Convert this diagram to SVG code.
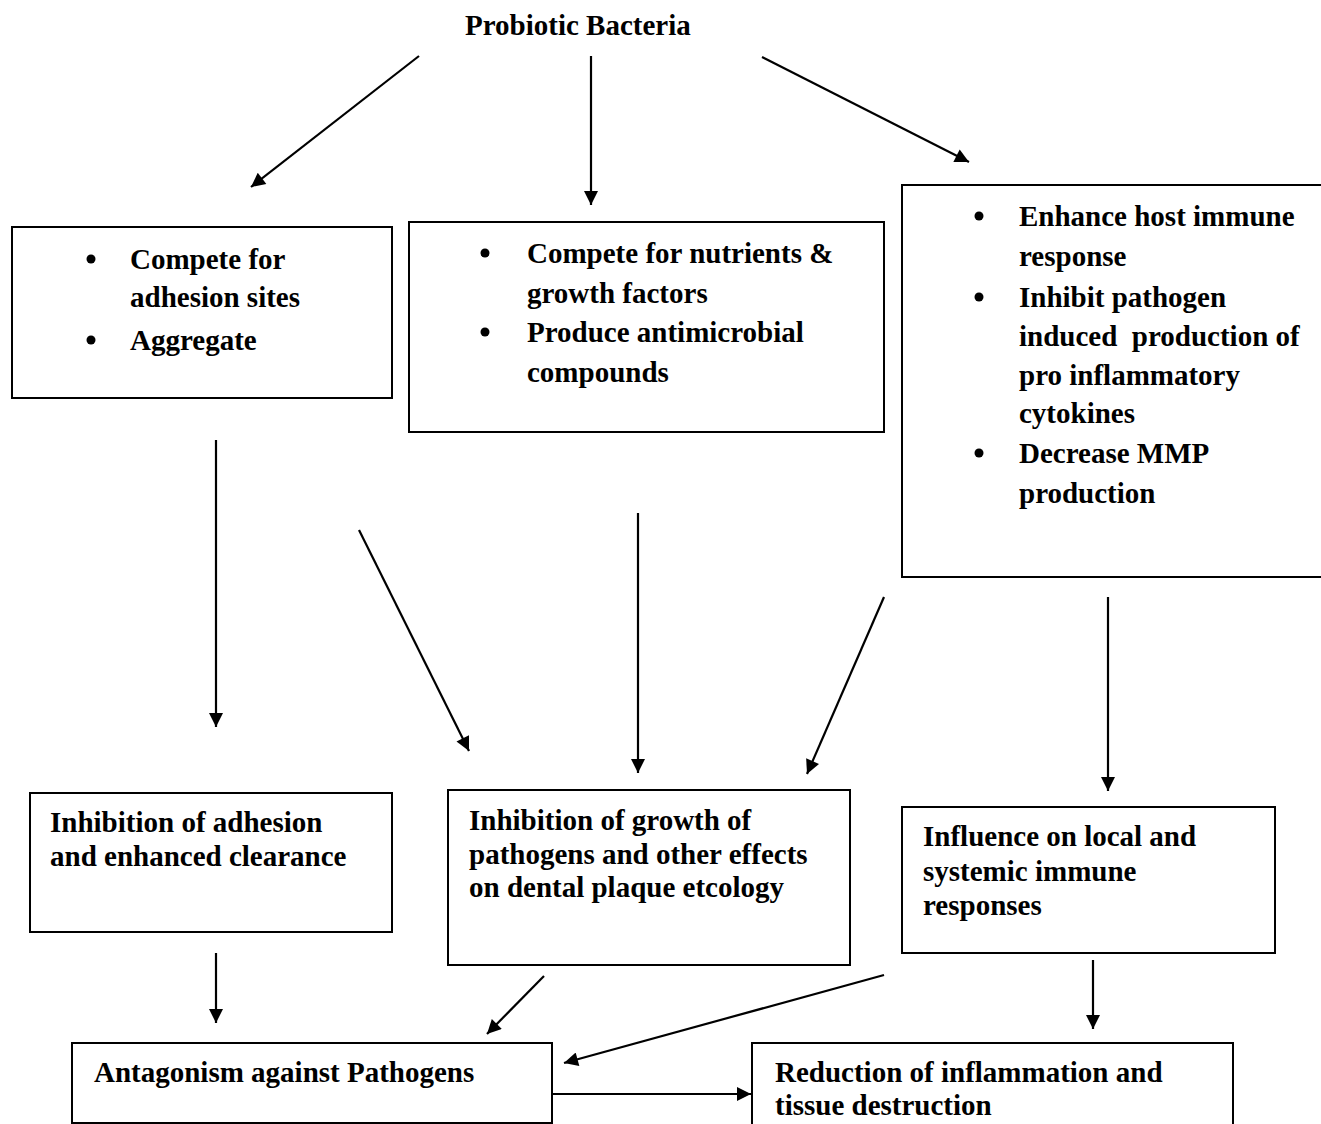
<svg xmlns="http://www.w3.org/2000/svg" width="1321" height="1124" viewBox="0 0 1321 1124">
<style>
text{font-family:"Liberation Serif","Times New Roman",serif;font-weight:bold;font-size:29px;fill:#000}
.box{fill:#fff;stroke:#000;stroke-width:2}
.c line{stroke:#000;stroke-width:2.2}
.dot{fill:#000}
</style>
<defs>
<marker id="ah" viewBox="0 0 10 10" refX="10" refY="5" markerWidth="17" markerHeight="14" markerUnits="userSpaceOnUse" orient="auto">
<path d="M0,0 L10,5 L0,10 Z" fill="#000"/>
</marker>
</defs>
<rect width="1321" height="1124" fill="#fff"/>
<g id="title"><text x="465" y="35">Probiotic Bacteria</text></g>
<g id="boxA">
<rect class="box" x="12" y="227" width="380" height="171"/>
<circle class="dot" cx="91" cy="259" r="4.5"/>
<circle class="dot" cx="91" cy="340" r="4.5"/>
<text x="130" y="269">Compete for</text>
<text x="130" y="307">adhesion sites</text>
<text x="130" y="350">Aggregate</text>
</g>
<g id="boxB">
<rect class="box" x="409" y="222" width="475" height="210"/>
<circle class="dot" cx="485" cy="253" r="4.5"/>
<circle class="dot" cx="485" cy="332" r="4.5"/>
<text x="527" y="263">Compete for nutrients &amp;</text>
<text x="527" y="303">growth factors</text>
<text x="527" y="342">Produce antimicrobial</text>
<text x="527" y="382">compounds</text>
</g>
<g id="boxC">
<rect class="box" x="902" y="185" width="430" height="392"/>
<circle class="dot" cx="979" cy="216" r="4.5"/>
<circle class="dot" cx="979" cy="297" r="4.5"/>
<circle class="dot" cx="979" cy="453" r="4.5"/>
<text x="1019" y="226">Enhance host immune</text>
<text x="1019" y="266">response</text>
<text x="1019" y="307">Inhibit pathogen</text>
<text x="1019" y="346" xml:space="preserve">induced  production of</text>
<text x="1019" y="385">pro inflammatory</text>
<text x="1019" y="423">cytokines</text>
<text x="1019" y="463">Decrease MMP</text>
<text x="1019" y="503">production</text>
</g>
<g id="boxD">
<rect class="box" x="30" y="793" width="362" height="139"/>
<text x="50" y="832">Inhibition of adhesion</text>
<text x="50" y="866">and enhanced clearance</text>
</g>
<g id="boxE">
<rect class="box" x="448" y="790" width="402" height="175"/>
<text x="469" y="830">Inhibition of growth of</text>
<text x="469" y="864">pathogens and other effects</text>
<text x="469" y="897">on dental plaque etcology</text>
</g>
<g id="boxF">
<rect class="box" x="902" y="807" width="373" height="146"/>
<text x="923" y="846">Influence on local and</text>
<text x="923" y="881">systemic immune</text>
<text x="923" y="915">responses</text>
</g>
<g id="boxG">
<rect class="box" x="72" y="1043" width="480" height="80"/>
<text x="94" y="1082">Antagonism against Pathogens</text>
</g>
<g id="boxH">
<rect class="box" x="752" y="1043" width="481" height="100"/>
<text x="775" y="1082">Reduction of inflammation and</text>
<text x="775" y="1115">tissue destruction</text>
</g>
<g id="connectors" class="c">
<line x1="419" y1="56" x2="251" y2="187" marker-end="url(#ah)"/>
<line x1="591" y1="56" x2="591" y2="205" marker-end="url(#ah)"/>
<line x1="762" y1="57" x2="969" y2="162" marker-end="url(#ah)"/>
<line x1="216" y1="440" x2="216" y2="727" marker-end="url(#ah)"/>
<line x1="359" y1="530" x2="469" y2="751" marker-end="url(#ah)"/>
<line x1="638" y1="513" x2="638" y2="773" marker-end="url(#ah)"/>
<line x1="884" y1="597" x2="807" y2="774" marker-end="url(#ah)"/>
<line x1="1108" y1="597" x2="1108" y2="791" marker-end="url(#ah)"/>
<line x1="216" y1="953" x2="216" y2="1023" marker-end="url(#ah)"/>
<line x1="544" y1="976" x2="487" y2="1034" marker-end="url(#ah)"/>
<line x1="884" y1="975" x2="564" y2="1063" marker-end="url(#ah)"/>
<line x1="1093" y1="960" x2="1093" y2="1029" marker-end="url(#ah)"/>
<line x1="553" y1="1094" x2="751" y2="1094" marker-end="url(#ah)"/>
</g>
</svg>
